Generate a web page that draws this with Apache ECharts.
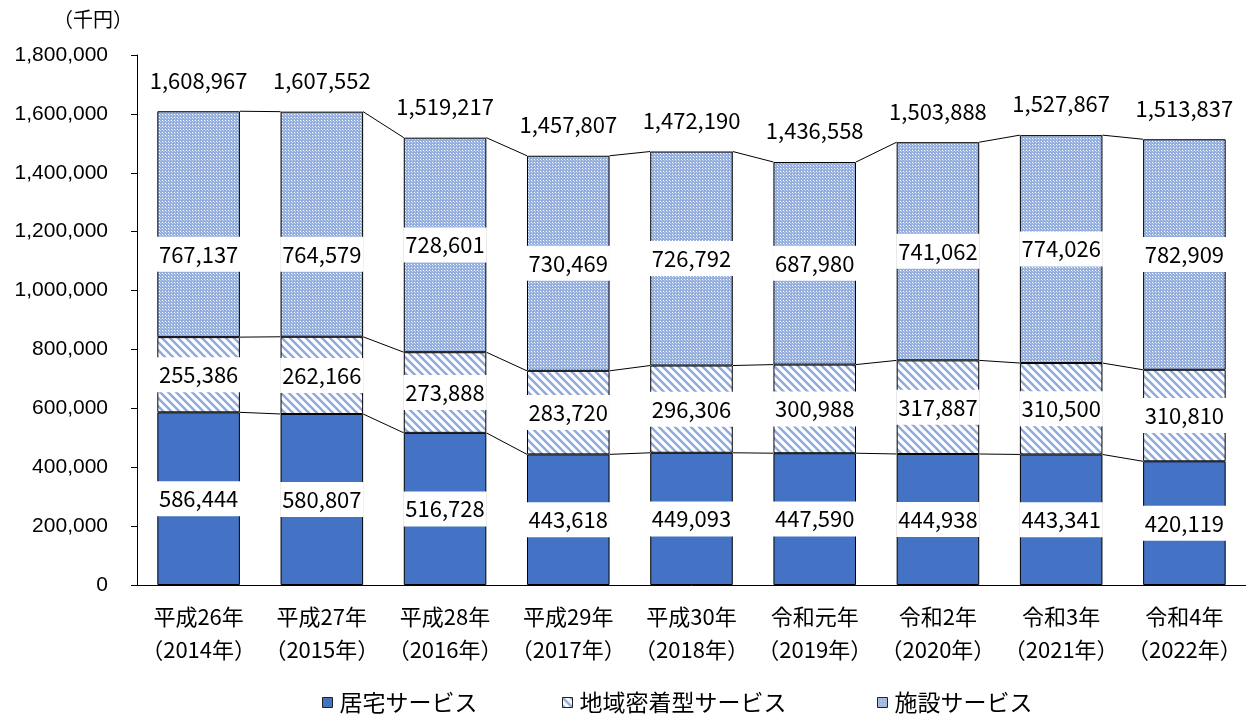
<!DOCTYPE html>
<html>
<head>
<meta charset="utf-8">
<script src="https://cdn.jsdelivr.net/npm/echarts@6/dist/echarts.min.js"></script>
<style>
  html, body { margin: 0; padding: 0; background: #fff; }
  #chart { width: 1246px; height: 718px; }
</style>
</head>
<body>
<div id="chart"></div>
<script>
// データ（千円）
var categories = [
  '平成26年\n（2014年）', '平成27年\n（2015年）', '平成28年\n（2016年）',
  '平成29年\n（2017年）', '平成30年\n（2018年）', '令和元年\n（2019年）',
  '令和2年\n（2020年）', '令和3年\n（2021年）', '令和4年\n（2022年）'
]
var kyotaku = [586444, 580807, 516728, 443618, 449093, 447590, 444938, 443341, 420119]
var chiiki = [255386, 262166, 273888, 283720, 296306, 300988, 317887, 310500, 310810]
var shisetsu = [767137, 764579, 728601, 730469, 726792, 687980, 741062, 774026, 782909]
var totals = [1608967, 1607552, 1519217, 1457807, 1472190, 1436558, 1503888, 1527867, 1513837]
var yTicks = [0, 200000, 400000, 600000, 800000, 1000000, 1200000, 1400000, 1600000, 1800000]
var seriesNames = ['居宅サービス', '地域密着型サービス', '施設サービス']

var JP = '"Noto Sans CJK JP", sans-serif'

function fmt (v) {
  return String(v).replace(/\B(?=(\d{3})+(?!\d))/g, ',')
}

// 斜線パターン
function stripePattern () {
  var c = document.createElement('canvas')
  c.width = 8
  c.height = 8
  var ctx = c.getContext('2d')
  ctx.fillStyle = '#fff'
  ctx.fillRect(0, 0, 8, 8)
  ctx.strokeStyle = '#8EA9DB'
  ctx.lineWidth = 2.4
  ctx.beginPath()
  ctx.moveTo(-2, -2); ctx.lineTo(10, 10)
  ctx.moveTo(-2, 6); ctx.lineTo(2, 10)
  ctx.moveTo(6, -2); ctx.lineTo(10, 2)
  ctx.stroke()
  return c
}

// 点々パターン
function dotPattern () {
  var c = document.createElement('canvas')
  c.width = 3
  c.height = 3
  var ctx = c.getContext('2d')
  ctx.fillStyle = '#94AEDE'
  ctx.fillRect(0, 0, 3, 3)
  ctx.fillStyle = '#fff'
  ctx.fillRect(0, 0, 1, 1)
  ctx.fillStyle = '#C3D2EF'
  ctx.fillRect(1, 1, 1, 1)
  return c
}

var stripe = { image: stripePattern(), repeat: 'repeat' }
var dots = { image: dotPattern(), repeat: 'repeat' }

var segLabel = {
  show: true,
  position: 'inside',
  color: '#000',
  fontFamily: JP,
  fontSize: 22,
  lineHeight: 22,
  backgroundColor: '#fff',
  padding: [7, 2, 6, 2],
  formatter: function (p) { return fmt(p.value) }
}

function barSeries (name, values, color) {
  return {
    name: name,
    type: 'bar',
    stack: 'total',
    barWidth: '67%',
    data: values.map(function (v, i) {
      // 施設サービスの最初の2本はラベルを下にずらす
      if (name === '施設サービス' && i < 2) {
        return { value: v, label: { offset: [0, 30] } }
      }
      return v
    }),
    itemStyle: { color: color, borderColor: '#000', borderWidth: 1 },
    label: segLabel,
    emphasis: { disabled: true }
  }
}

var myChart = echarts.init(document.getElementById('chart'))

myChart.setOption({
  animation: false,
  grid: { left: 137, right: -8, top: 55, bottom: 133 },
  legend: [
    { left: 322, top: 691, data: [seriesNames[0]] },
    { left: 562, top: 691, data: [seriesNames[1]] },
    { left: 877, top: 691, data: [seriesNames[2]] }
  ].map(function (l) {
    return Object.assign(l, {
      icon: 'rect',
      itemWidth: 10,
      itemHeight: 10,
      padding: 0,
      itemStyle: { borderColor: '#222', borderWidth: 1 },
      textStyle: { fontFamily: JP, fontSize: 23, color: '#000', padding: [0, 0, 0, 2] },
      selectedMode: false
    })
  }),
  xAxis: {
    type: 'category',
    data: categories,
    axisTick: { show: false },
    axisLine: { lineStyle: { color: '#000', width: 1 } },
    axisLabel: {
      color: '#000',
      fontFamily: JP,
      fontSize: 22,
      lineHeight: 33,
      margin: 15,
      interval: 0
    }
  },
  yAxis: {
    type: 'value',
    min: yTicks[0],
    max: yTicks[yTicks.length - 1],
    interval: yTicks[1] - yTicks[0],
    name: '（千円）',
    nameLocation: 'end',
    nameGap: 26,
    nameTextStyle: { fontFamily: JP, fontSize: 20, color: '#000', align: 'right', padding: [0, 4, 0, 0] },
    splitLine: { show: false },
    axisLine: { show: true, lineStyle: { color: '#000', width: 1 } },
    axisTick: { show: true, length: 6, lineStyle: { color: '#000' } },
    axisLabel: {
      color: '#000',
      fontFamily: '"Liberation Sans", Arial, sans-serif',
      fontSize: 21,
      margin: 29,
      formatter: function (v) { return fmt(v) }
    }
  },
  series: [
    barSeries(seriesNames[0], kyotaku, '#4472C4'),
    barSeries(seriesNames[1], chiiki, stripe),
    barSeries(seriesNames[2], shisetsu, dots),
    {
      // 区分線と合計ラベル
      type: 'custom',
      data: totals.map(function (t, i) { return [i, t] }),
      encode: { x: 0, y: 1 },
      z: 5,
      silent: true,
      renderItem: function (params, api) {
        var i = api.value(0)
        var bw = api.size([1, 0])[0] * 0.67
        var children = []
        var top = api.coord([i, totals[i]])
        children.push({
          type: 'text',
          style: {
            x: top[0],
            y: top[1] - 31,
            text: fmt(totals[i]),
            fill: '#000',
            font: '22px ' + JP,
            textAlign: 'center',
            textVerticalAlign: 'middle'
          }
        })
        if (i < totals.length - 1) {
          var levels = [
            [kyotaku[i], kyotaku[i + 1]],
            [kyotaku[i] + chiiki[i], kyotaku[i + 1] + chiiki[i + 1]],
            [totals[i], totals[i + 1]]
          ]
          levels.forEach(function (lv) {
            var a = api.coord([i, lv[0]])
            var b = api.coord([i + 1, lv[1]])
            children.push({
              type: 'line',
              shape: { x1: a[0] + bw / 2, y1: a[1], x2: b[0] - bw / 2, y2: b[1] },
              style: { stroke: '#000', lineWidth: 1 }
            })
          })
        }
        return { type: 'group', children: children }
      }
    }
  ]
})
</script>
</body>
</html>
